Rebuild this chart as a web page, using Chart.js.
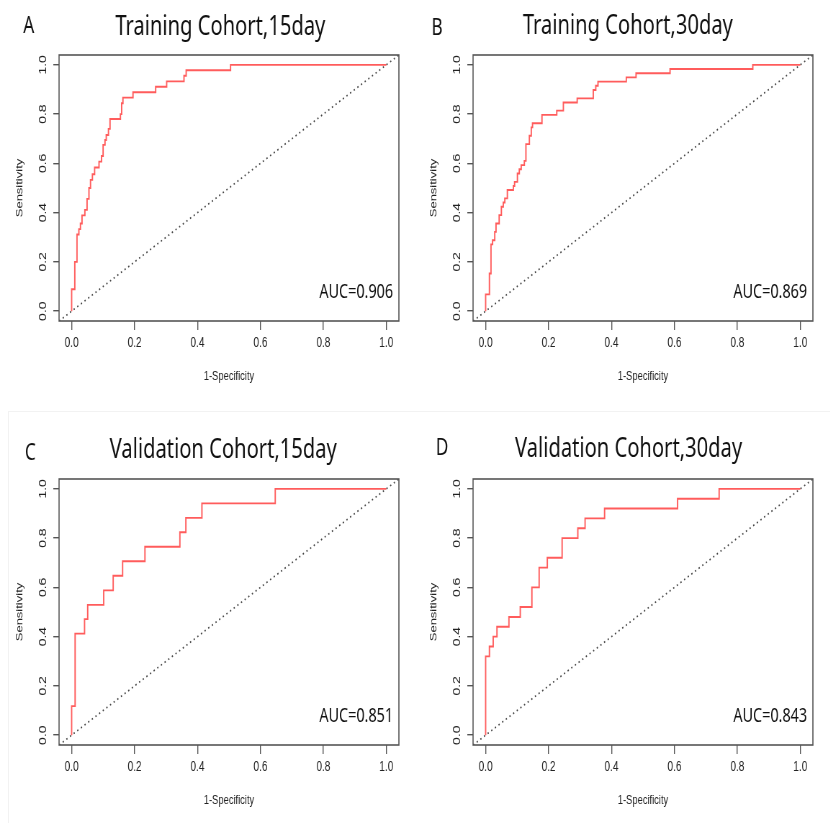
<!DOCTYPE html>
<html>
<head>
<meta charset="utf-8">
<title>ROC curves</title>
<script src="https://cdn.jsdelivr.net/npm/chart.js@4.4.1/dist/chart.umd.min.js"></script>
<style>
  html, body { margin: 0; padding: 0; background: #fff; overflow: hidden; }
  #page { position: relative; width: 830px; height: 823px; }
  /* the original figure is squeezed horizontally, so each panel is drawn wide and scaled */
  .panel { position: absolute; width: 576px; height: 400px; transform: scaleX(0.72); transform-origin: 0 0; }
  .frame { position: absolute; left: 8px; top: 411px; width: 840px; height: 430px;
           border-top: 1px solid #f2f2f2; border-left: 1px solid #f2f2f2; }
</style>
</head>
<body>
<div id="page">
  <div class="frame"></div>
  <div class="panel" style="left:0px;top:0px"><canvas id="rocA" width="576" height="400"></canvas></div>
  <div class="panel" style="left:414px;top:0px"><canvas id="rocB" width="576" height="400"></canvas></div>
  <div class="panel" style="left:0px;top:424px"><canvas id="rocC" width="576" height="400"></canvas></div>
  <div class="panel" style="left:414px;top:424px"><canvas id="rocD" width="576" height="400"></canvas></div>
</div>
<script>
// tick positions on both axes
const axisTicks = [0, 0.2, 0.4, 0.6, 0.8, 1.0];

// Training cohort, 15 day
const fprA = [0, 0, 0.010, 0.017, 0.023, 0.028, 0.033, 0.042, 0.049, 0.055, 0.060, 0.066, 0.073,
              0.087, 0.095, 0.100, 0.106, 0.110, 0.117, 0.122, 0.155, 0.159, 0.163, 0.195, 0.267,
              0.302, 0.357, 0.364, 0.505, 1.0];
const tprA = [0, 0.089, 0.200, 0.311, 0.333, 0.356, 0.389, 0.411, 0.456, 0.500, 0.533, 0.556, 0.583,
              0.607, 0.630, 0.675, 0.695, 0.715, 0.740, 0.780, 0.800, 0.844, 0.867, 0.889, 0.911,
              0.933, 0.956, 0.978, 1.0, 1.0];

// Training cohort, 30 day
const fprB = [0, 0, 0.012, 0.017, 0.022, 0.029, 0.033, 0.043, 0.050, 0.056, 0.061, 0.069, 0.088,
              0.092, 0.101, 0.107, 0.113, 0.123, 0.128, 0.139, 0.145, 0.149, 0.179, 0.226, 0.247,
              0.291, 0.342, 0.350, 0.357, 0.447, 0.478, 0.586, 0.849, 1.0];
const tprB = [0, 0.068, 0.153, 0.271, 0.288, 0.322, 0.356, 0.390, 0.424, 0.441, 0.458, 0.492, 0.508,
              0.525, 0.559, 0.576, 0.593, 0.610, 0.678, 0.712, 0.746, 0.763, 0.797, 0.814, 0.847,
              0.864, 0.898, 0.915, 0.932, 0.949, 0.966, 0.983, 1.0, 1.0];

// Validation cohort, 15 day
const fprC = [0, 0, 0.011, 0.041, 0.051, 0.102, 0.132, 0.162, 0.233, 0.344, 0.363, 0.414, 0.647, 1.0];
const tprC = [0, 0.118, 0.412, 0.471, 0.529, 0.588, 0.647, 0.706, 0.765, 0.824, 0.882, 0.941, 1.0, 1.0];

// Validation cohort, 30 day
const fprD = [0, 0, 0.012, 0.024, 0.036, 0.074, 0.110, 0.147, 0.170, 0.196, 0.243, 0.293, 0.316,
              0.378, 0.610, 0.742, 1.0];
const tprD = [0, 0.32, 0.36, 0.40, 0.44, 0.48, 0.52, 0.60, 0.68, 0.72, 0.80, 0.84, 0.88,
              0.92, 0.96, 1.0, 1.0];

const titles = ['Training Cohort,15day', 'Training Cohort,30day', 'Validation Cohort,15day', 'Validation Cohort,30day'];
const letters = ['A', 'B', 'C', 'D'];
const aucLabels = ['AUC=0.906', 'AUC=0.869', 'AUC=0.851', 'AUC=0.843'];

// where the heading pieces sit inside each (unscaled) panel
const headPos = [
    { titleX: 306, titleY: 35, letterX: 40, letterY: 33 },
    { titleX: 297, titleY: 34, letterX: 32, letterY: 35 },
    { titleX: 310, titleY: 34, letterX: 42, letterY: 36 },
    { titleX: 298, titleY: 33, letterX: 39, letterY: 31 },
];

const axisFont = 'Liberation Sans, Arial, Helvetica, sans-serif';
const headFont = '"Noto Sans", "Open Sans", sans-serif';

// box around the plotting region plus the panel texts
const rocDecor = {
    id: 'rocDecor',
    afterDatasetsDraw(chart) {
        const a = chart.chartArea;
        const ctx = chart.ctx;
        ctx.save();
        ctx.strokeStyle = '#555';
        ctx.lineWidth = 1.6;
        ctx.strokeRect(a.left, a.top, a.right - a.left, a.bottom - a.top);
        ctx.restore();
    },
    afterDraw(chart, args, opts) {
        const a = chart.chartArea;
        const ctx = chart.ctx;
        ctx.save();
        ctx.fillStyle = '#111';
        ctx.textBaseline = 'alphabetic';

        ctx.font = '28px ' + headFont;
        ctx.textAlign = 'center';
        ctx.fillText(opts.title, opts.titleX, opts.titleY);

        ctx.font = '24px ' + headFont;
        ctx.fillText(opts.letter, opts.letterX, opts.letterY);

        ctx.font = '20px ' + headFont;
        ctx.textAlign = 'right';
        ctx.fillText(opts.auc, a.right - 8, a.bottom - 23);
        ctx.restore();
    }
};

function makeRoc(canvasId, fpr, tpr, idx) {
    const ctx = document.getElementById(canvasId);
    const points = fpr.map(function (x, i) { return { x: x, y: tpr[i] }; });

    return new Chart(ctx, {
        type: 'line',
        data: {
            datasets: [
                {
                    label: 'reference',
                    data: [{ x: -0.04, y: -0.04 }, { x: 1.04, y: 1.04 }],
                    borderColor: '#444',
                    borderWidth: 1.7,
                    borderDash: [1.8, 4],
                    pointRadius: 0,
                    fill: false,
                },
                {
                    label: 'ROC',
                    data: points,
                    stepped: 'before', // horizontal first, then up
                    borderColor: '#ff5c5c',
                    borderWidth: 1.9,
                    pointRadius: 0,
                    fill: false,
                },
            ],
        },
        options: {
            responsive: false,
            animation: false,
            layout: { padding: { top: 55, right: 22, bottom: 0, left: 0 } },
            plugins: {
                legend: { display: false },
                tooltip: { enabled: false },
                title: { display: false },
                rocDecor: {
                    title: titles[idx],
                    letter: letters[idx],
                    auc: aucLabels[idx],
                    titleX: headPos[idx].titleX,
                    titleY: headPos[idx].titleY,
                    letterX: headPos[idx].letterX,
                    letterY: headPos[idx].letterY,
                },
            },
            scales: {
                x: {
                    type: 'linear',
                    min: -0.04,
                    max: 1.04,
                    afterBuildTicks: function (s) { s.ticks = axisTicks.map(function (v) { return { value: v }; }); },
                    afterFit: function (s) { s.height = 79; },
                    ticks: {
                        autoSkip: false,
                        maxRotation: 0,
                        padding: 5,
                        color: '#222',
                        font: { family: axisFont, size: 14 },
                        callback: function (v) { return v.toFixed(1); },
                    },
                    grid: { drawOnChartArea: false, drawTicks: true, tickLength: 9, color: '#555', lineWidth: 1.4 },
                    border: { display: false },
                    title: {
                        display: true,
                        text: '1-Specificity',
                        color: '#222',
                        font: { family: axisFont, size: 13 },
                        padding: { top: 0, bottom: 16 },
                    },
                },
                y: {
                    type: 'linear',
                    min: -0.04,
                    max: 1.04,
                    afterBuildTicks: function (s) { s.ticks = axisTicks.map(function (v) { return { value: v }; }); },
                    afterFit: function (s) { s.width = 82; },
                    ticks: {
                        autoSkip: false,
                        minRotation: 90,
                        maxRotation: 90,
                        crossAlign: 'center',
                        padding: 4,
                        color: '#222',
                        font: { family: axisFont, size: 14 },
                        callback: function (v) { return v.toFixed(1); },
                    },
                    grid: { drawOnChartArea: false, drawTicks: true, tickLength: 8, color: '#555', lineWidth: 1.4 },
                    border: { display: false },
                    title: {
                        display: true,
                        text: 'Sensitivity',
                        color: '#222',
                        font: { family: axisFont, size: 13 },
                        padding: { top: 20, bottom: 0 },
                    },
                },
            },
        },
        plugins: [rocDecor],
    });
}

document.addEventListener('DOMContentLoaded', function () {
    makeRoc('rocA', fprA, tprA, 0);
    makeRoc('rocB', fprB, tprB, 1);
    makeRoc('rocC', fprC, tprC, 2);
    makeRoc('rocD', fprD, tprD, 3);
});
</script>
</body>
</html>
